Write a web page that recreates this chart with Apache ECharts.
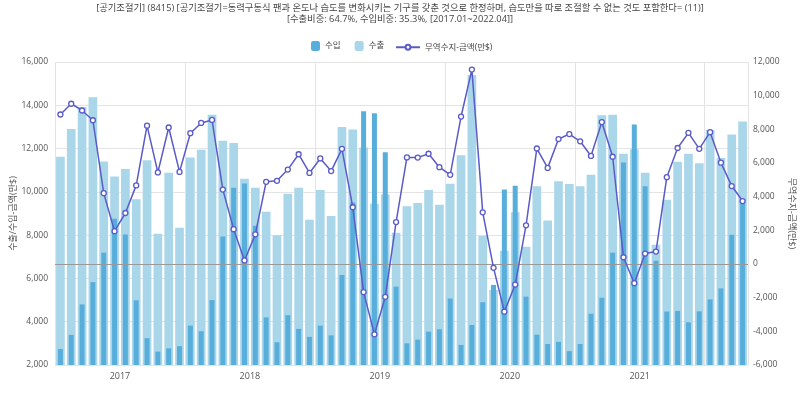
<!DOCTYPE html>
<html>
<head>
<meta charset="utf-8">
<script src="https://cdn.jsdelivr.net/npm/echarts@6/dist/echarts.min.js"></script>
<style>
html,body{margin:0;padding:0;background:#fff;}
#chart{width:800px;height:395px;}
</style>
</head>
<body>
<div id="chart"></div>
<script>
const months = [
'2017.01','2017.02','2017.03','2017.04','2017.05','2017.06','2017.07','2017.08','2017.09','2017.10','2017.11','2017.12',
'2018.01','2018.02','2018.03','2018.04','2018.05','2018.06','2018.07','2018.08','2018.09','2018.10','2018.11','2018.12',
'2019.01','2019.02','2019.03','2019.04','2019.05','2019.06','2019.07','2019.08','2019.09','2019.10','2019.11','2019.12',
'2020.01','2020.02','2020.03','2020.04','2020.05','2020.06','2020.07','2020.08','2020.09','2020.10','2020.11','2020.12',
'2021.01','2021.02','2021.03','2021.04','2021.05','2021.06','2021.07','2021.08','2021.09','2021.10','2021.11','2021.12',
'2022.01','2022.02','2022.03','2022.04'
];
const yearLabels = ['2017','2018','2019','2020','2021'];

// 수출 (exports, 만$)
const exportsVal = [
11620,12910,13920,14370,11400,10710,11060,9660,11460,8060,10880,8340,
11590,11940,13560,12360,12260,10600,10190,9080,7990,9910,10190,8710,
10090,8890,13000,12880,12050,9450,9880,8110,9330,9490,10090,9400,
10370,11690,15400,7970,5470,7280,9060,7460,10260,8680,10490,10360,
10260,10790,13540,13560,11760,11970,10880,7560,9630,11390,11760,11320,
12860,11560,12650,13250
];
// 수입 (imports, 만$)
const importsVal = [
2740,3390,4800,5830,7190,8760,8030,4990,3240,2620,2770,2870,
3820,3560,5000,7940,10190,10390,8430,4200,3050,4300,3670,3300,
3820,3370,6160,9510,13720,13630,11830,5620,3000,3170,3540,3650,
5070,2930,3850,4900,5700,10110,10280,5160,3400,2970,3070,2640,
2970,4370,5110,7190,11360,13110,10260,6820,4470,4500,3970,4480,
5030,5540,8020,9510
];
// 무역수지-금액 (trade balance, 만$)
const balance = [
8880,9520,9120,8540,4210,1950,3030,4670,8220,5440,8110,5470,
7770,8380,8560,4420,2070,210,1760,4880,4940,5610,6520,5410,
6270,5520,6840,3370,-1670,-4180,-1950,2490,6330,6320,6550,5750,
5300,8760,11550,3070,-230,-2830,-1220,2300,6860,5710,7420,7720,
7290,6420,8430,6370,400,-1140,620,740,5160,6890,7790,6840,
7830,6020,4630,3740
];

const FONT = "'Open Sans', 'Noto Sans CJK KR', sans-serif";
const chart = echarts.init(document.getElementById('chart'), null, {renderer:'canvas'});
chart.setOption({
  animation: false,
  backgroundColor: '#fff',
  title: [
    {
      text: '[공기조절기] (8415) [공기조절기=동력구동식 팬과 온도나 습도를 변화시키는 기구를 갖춘 것으로 한정하며, 습도만을 따로 조절할 수 없는 것도 포함한다= (11)]',
      left: 'center', top: 4, padding: 0,
      textStyle: {fontSize: 9.3, fontWeight: 'normal', color: '#444', fontFamily: FONT}
    },
    {
      text: '[수출비중: 64.7%, 수입비중: 35.3%, [2017.01~2022.04]]',
      left: 'center', top: 15, padding: 0,
      textStyle: {fontSize: 9.3, fontWeight: 'normal', color: '#444', fontFamily: FONT}
    }
  ],
  legend: [
    {
      top: 41, left: 311, padding: 0,
      itemWidth: 9, itemHeight: 10, itemGap: 14,
      data: ['수입','수출'],
      textStyle: {fontSize: 8.5, color: '#444', fontFamily: FONT}
    },
    {
      top: 43, left: 395, padding: 0,
      itemWidth: 24, itemHeight: 6,
      data: ['무역수지-금액(만$)'],
      textStyle: {fontSize: 8.5, color: '#444', fontFamily: FONT}
    }
  ],
  grid: {left: 55, right: 52, top: 62, bottom: 30, containLabel: false, outerBoundsMode: 'none'},
  xAxis: [
    {
      type: 'category', data: months, boundaryGap: true,
      axisLine: {show: false}, axisTick: {show: false},
      axisLabel: {show: false},
      splitLine: {show: true, interval: (i) => i % 12 === 0, lineStyle: {color: '#e4e4e4', width: 1}}
    },
    {
      type: 'category', data: months, boundaryGap: true, show: false
    },
    {
      type: 'value', min: 0, max: 64, interval: 6, position: 'bottom',
      axisLine: {show: false}, axisTick: {show: false}, splitLine: {show: false},
      axisLabel: {
        fontSize: 9, color: '#555', fontFamily: FONT, margin: 7,
        showMaxLabel: false,
        formatter: (v) => (v % 12 === 6 ? yearLabels[(v - 6) / 12] : '')
      }
    }
  ],
  yAxis: [
    {
      type: 'value', min: 2000, max: 16000, interval: 2000,
      name: '수출/수입-금액(만$)', nameLocation: 'middle', nameGap: 37, nameRotate: 90,
      nameMoveOverlap: false,
      nameTextStyle: {fontSize: 9, color: '#555', fontFamily: FONT},
      axisLine: {show: false}, axisTick: {show: false},
      axisLabel: {fontSize: 8.5, color: '#555', fontFamily: FONT, margin: 7,
        formatter: (v) => v.toLocaleString('en-US')},
      splitLine: {lineStyle: {color: '#e4e4e4', width: 1}}
    },
    {
      type: 'value', min: -6000, max: 12000, interval: 2000,
      name: '무역수지-금액(만$)', nameLocation: 'middle', nameGap: 39, nameRotate: -90,
      nameMoveOverlap: false,
      nameTextStyle: {fontSize: 9, color: '#555', fontFamily: FONT},
      axisLine: {show: false}, axisTick: {show: false},
      axisLabel: {fontSize: 8.5, color: '#555', fontFamily: FONT, margin: 5,
        formatter: (v) => v.toLocaleString('en-US')},
      splitLine: {show: false}
    }
  ],
  series: [
    {
      name: '수출', type: 'bar', xAxisIndex: 0, yAxisIndex: 0,
      data: exportsVal, barWidth: 8.7,
      itemStyle: {color: '#aad6ea'}, z: 2
    },
    {
      name: '수입', type: 'bar', xAxisIndex: 1, yAxisIndex: 0,
      data: importsVal, barWidth: 5,
      itemStyle: {color: '#58aedb'}, z: 3
    },
    {
      name: '무역수지-금액(만$)', type: 'line', xAxisIndex: 0, yAxisIndex: 1,
      data: balance, symbol: 'circle', symbolSize: 5, showAllSymbol: true,
      lineStyle: {color: '#5a5ac8', width: 1.5},
      itemStyle: {color: '#fff', borderColor: '#5a5ac8', borderWidth: 1.3},
      z: 5,
      markLine: {
        silent: true, symbol: 'none', label: {show: false},
        lineStyle: {color: '#999', width: 1, type: 'solid'},
        data: [{yAxis: 0}]
      }
    }
  ]
});
</script>
</body>
</html>
